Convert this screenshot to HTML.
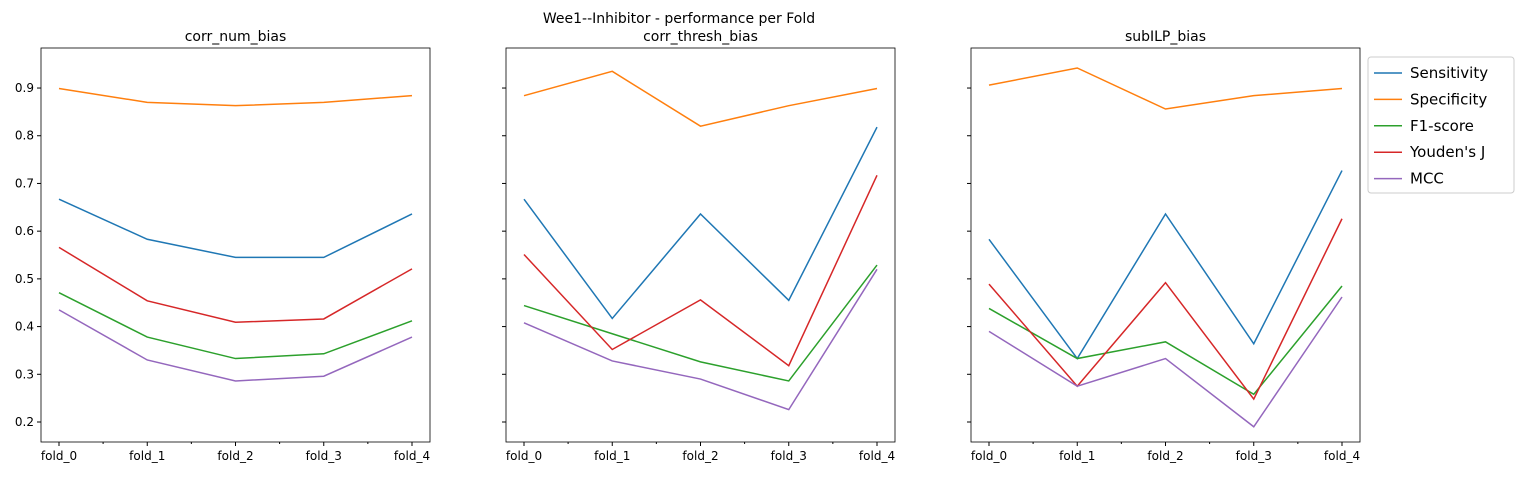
<!DOCTYPE html>
<html><head><meta charset="utf-8"><style>
body{margin:0;background:#fff;}
svg text{font-family:"DejaVu Sans","Liberation Sans",sans-serif;}
</style></head><body>
<svg id="chart" width="1524" height="478" xmlns="http://www.w3.org/2000/svg">
<text x="679" y="23" font-size="14" text-anchor="middle">Wee1--Inhibitor - performance per Fold</text>
</svg>
<script>
const categories=["fold_0","fold_1","fold_2","fold_3","fold_4"];
const seriesNames=["Sensitivity","Specificity","F1-score","Youden's J","MCC"];
const colors=["#1f77b4","#ff7f0e","#2ca02c","#d62728","#9467bd"];
const panelTitles=["corr_num_bias","corr_thresh_bias","subILP_bias"];
const yTicks=[0.2,0.3,0.4,0.5,0.6,0.7,0.8,0.9];
const p1Sens=[0.667,0.583,0.545,0.545,0.636];
const p1Spec=[0.899,0.870,0.863,0.870,0.884];
const p1F1=[0.471,0.378,0.333,0.343,0.412];
const p1YJ=[0.566,0.454,0.409,0.416,0.521];
const p1MCC=[0.435,0.330,0.286,0.296,0.378];
const p2Sens=[0.667,0.417,0.636,0.455,0.818];
const p2Spec=[0.884,0.935,0.820,0.863,0.899];
const p2F1=[0.444,0.385,0.326,0.286,0.529];
const p2YJ=[0.551,0.352,0.456,0.318,0.717];
const p2MCC=[0.408,0.328,0.290,0.226,0.520];
const p3Sens=[0.583,0.333,0.636,0.364,0.727];
const p3Spec=[0.906,0.942,0.856,0.884,0.899];
const p3F1=[0.438,0.333,0.368,0.258,0.485];
const p3YJ=[0.489,0.275,0.492,0.248,0.626];
const p3MCC=[0.390,0.275,0.333,0.190,0.462];
const panels=[[p1Sens,p1Spec,p1F1,p1YJ,p1MCC],[p2Sens,p2Spec,p2F1,p2YJ,p2MCC],[p3Sens,p3Spec,p3F1,p3YJ,p3MCC]];

const NS="http://www.w3.org/2000/svg";
const svgEl=document.getElementById('chart');
function mk(tag,attrs,parent){const e=document.createElementNS(NS,tag);for(const k in attrs)e.setAttribute(k,attrs[k]);(parent||svgEl).appendChild(e);return e;}
const axL=[41,506,971], axW=389, axTop=48, axBot=442;
const yScale=v=>422-(v-0.2)*477.1;
panels.forEach((pd,pi)=>{
  const L=axL[pi];
  const xScale=i=>L+18+i*88.25;
  const g=mk('g',{});
  
  
  const t=mk('text',{x:L+axW/2,y:41,'font-size':14,'text-anchor':'middle'},g);
  t.textContent=panelTitles[pi];
  
  
  yTicks.forEach(v=>{
    const y=yScale(v);
    mk('line',{x1:L-4,x2:L,y1:y,y2:y,stroke:'#000','stroke-width':1},g);
    if(pi===0){const tt=mk('text',{x:L-7,y:y+4,'font-size':12,'text-anchor':'end'},g);tt.textContent=v.toFixed(1);
      
      }
  });
  categories.forEach((c,i)=>{
    const x=xScale(i);
    mk('line',{x1:x,x2:x,y1:axBot,y2:axBot+4,stroke:'#000'},g);
    if(i<4){mk('line',{x1:x+44.1,x2:x+44.1,y1:axBot,y2:axBot+2,stroke:'#000'},g);}
    const tt=mk('text',{x:x,y:axBot+18,'font-size':12,'text-anchor':'middle'},g);tt.textContent=c;
    
    
  });
  pd.forEach((vals,si)=>{
    const pl=mk('polyline',{points:vals.map((v,i)=>xScale(i)+','+yScale(v)).join(' '),fill:'none',stroke:colors[si],'stroke-width':1.5},g);
    
    
  });
  mk('rect',{x:L,y:axTop,width:axW,height:axBot-axTop,fill:'none',stroke:'#000','stroke-width':0.8},g);
});
const lg=mk('g',{});


mk('rect',{x:1368,y:57,width:146,height:136,rx:3,fill:'#fff',stroke:'#ccc'},lg);
seriesNames.forEach((n,i)=>{
  const y=73+i*26.4;
  mk('line',{x1:1374,x2:1402,y1:y,y2:y,stroke:colors[i],'stroke-width':1.5},lg);
  const t=mk('text',{x:1410,y:y+5,'font-size':15},lg);t.textContent=n;
  
  
});
</script>
</body></html>
